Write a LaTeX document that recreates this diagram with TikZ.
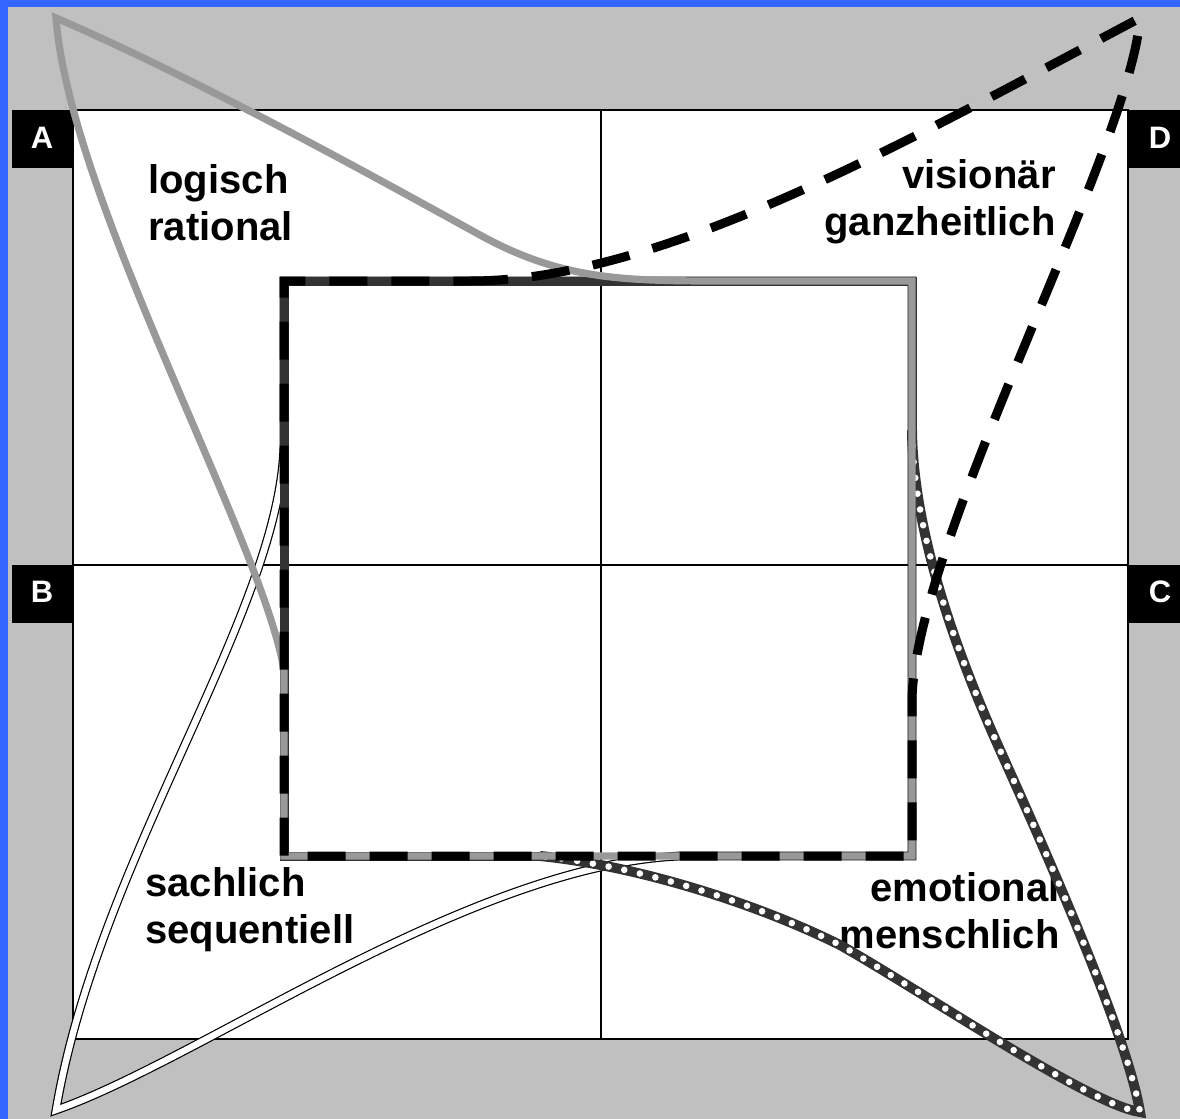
\documentclass[tikz,border=0pt]{standalone}
\usepackage{fontspec}
\setmainfont{Liberation Sans}
\usepackage{xcolor}
\definecolor{Frame}{RGB}{51,102,255}
\definecolor{Panel}{RGB}{192,192,192}
\definecolor{Silver}{RGB}{153,153,153}
\definecolor{Coal}{RGB}{51,51,51}

\begin{document}
\begin{tikzpicture}[x=0.5pt,y=-0.5pt,
    quad/.style={font=\fontsize{20pt}{23.5pt}\selectfont\bfseries,inner sep=0pt},
    tag/.style={font=\fontsize{15.5pt}{18pt}\selectfont\bfseries,text=white,inner sep=0pt},
    tagbox/.style={fill=black},
    grid/.style={black,line width=0.7pt},
    prefA/.style={Silver,line width=3.6pt,line join=miter},
    prefB/.style={black,line width=0.6pt,double=white,double distance=3.2pt,line join=miter},
    prefCedge/.style={Coal,line width=4.5pt},
    prefC/.style={Coal,line width=5pt,line join=miter,
                  postaction={draw,white,line width=3.3pt,line cap=round,dash pattern=on 0pt off 8pt}},
    prefD/.style={black,line width=4.5pt,line join=miter,dash pattern=on 19pt off 12pt}]

  \useasboundingbox (0,0) rectangle (1180,1119);
  \fill[Frame] (0,0) rectangle (1180,1119);
  \fill[Panel] (8,7) rectangle (1180,1119);

  % quadrant field
  \draw[grid,fill=white] (73,110) rectangle (1128,1039);
  \draw[grid] (601,110) -- (601,1039);
  \draw[grid] (73,565) -- (1128,565);

  \fill[tagbox] (12,110) rectangle (72,168);
  \fill[tagbox] (12,565) rectangle (72,623);
  \fill[tagbox] (1129,565) rectangle (1180,623);
  \fill[tagbox] (1129,110) rectangle (1180,168);
  \node[tag] (tagA) at (42,138) {A};
  \node[tag] (tagB) at (42,592) {B};
  \node[tag] (tagC) at (1160,592) {C};
  \node[tag] (tagD) at (1160,138) {D};

  \node[quad,anchor=west,align=left]  (logic)   at (148,203) {logisch\\rational};
  \node[quad,anchor=east,align=right] (vision)  at (1056,202) {visionär\\ganzheitlich};
  \node[quad,anchor=west,align=left]  (fact)    at (145,910) {sachlich\\sequentiell};
  \node[quad,anchor=east,align=right] (emotion) at (1060,911) {emotional\\menschlich};

  % profile square
  \coordinate (tl) at (284,281);
  \coordinate (tr) at (912,281);
  \coordinate (br) at (912,856);
  \coordinate (bl) at (284,856);

  % B
  \draw[prefB] (284,430) .. controls (290,600) and (100,850) .. (56,1110)
    .. controls (200,1060) and (470,865) .. (680,856)
    -- (br) -- (tr) -- (tl) -- cycle;

  % C
  \draw[prefCedge] (540,856) -- (bl) -- (tl) -- (tr) -- (912,430);
  \draw[prefC] (912,430) .. controls (913,530) and (955,650) .. (1000,750)
    .. controls (1060,883) and (1128,1040) .. (1140,1112)
    .. controls (1090,1105) and (920,990) .. (840,945)
    .. controls (760,905) and (640,866) .. (540,856);

  % A
  \draw[prefA] (284,670) .. controls (262,540) and (70,200) .. (56,18)
    .. controls (200,80) and (380,180) .. (480,235)
    .. controls (560,279) and (620,281) .. (720,281)
    -- (tr) -- (br) -- (bl) -- cycle;

  % D
  \draw[prefD] (470,281) .. controls (660,281) and (900,145) .. (1140,18)
    .. controls (1130,150) and (915,540) .. (912,700)
    -- (br) -- (bl) -- (tl) -- cycle;
\end{tikzpicture}
\end{document}
